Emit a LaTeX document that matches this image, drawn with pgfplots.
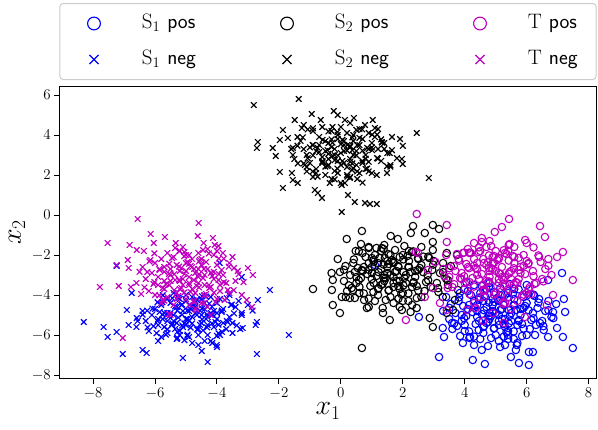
\RequirePackage{fix-cm}
\documentclass[border=0pt]{standalone}
\usepackage{pgfplots}
\pgfplotsset{compat=1.18}
\definecolor{mplm}{rgb}{0.75,0,0.75}
\pgfplotsset{myleg/.style={legend image code/.code={\draw[##1, mark size=6.4bp, line width=1.1bp] plot coordinates {(24bp,0bp)}; \path[draw=none,fill=none] (0bp,0bp) -- (32bp,0bp);}}}
\begin{document}
\begin{tikzpicture}
\useasboundingbox (0,0) rectangle (598bp,430bp);
\begin{axis}[
  at={(59.3bp,51bp)}, anchor=south west,
  scale only axis, width=537.4bp, height=293bp,
  xmin=-9.09, xmax=8.26, ymin=-8.2, ymax=6.45,
  xtick={-8,-6,...,8}, ytick={-8,-6,...,6},
  tick align=outside, tick pos=left, major tick length=5bp,
  axis line style={line width=1bp}, tick style={line width=1bp, black},
  ticklabel style={font=\fontsize{15}{18}\selectfont},
  xlabel={$x_1$}, ylabel={$x_2$},
  label style={font=\fontsize{28}{32}\selectfont},
  xlabel style={at={(axis description cs:0.5,0)}, anchor=base, yshift=-36bp},
  ylabel style={at={(axis description cs:-0.0713,0.5)}, anchor=base},
  legend columns=3,
  legend cell align=left,
  legend style={at={(0.5,1)}, anchor=south, yshift=6bp,
    draw=black!20, line width=1bp, rounded corners=3bp, fill=white,
    inner xsep=10bp, inner ysep=10bp, row sep=16bp,
    font=\fontsize{21}{25}\selectfont,
    nodes={inner sep=0pt, text width=58bp, text height=15bp, text depth=5bp},
    /tikz/every odd column/.append style={column sep=40bp},
    /tikz/every even column/.append style={column sep=63bp}},
  cpos/.style={only marks, mark=o, mark size=3.7bp, line width=1.1bp, myleg},
  cneg/.style={only marks, mark=x, mark size=4bp, line width=1.15bp, myleg},
]
% S1 pos
\addplot[blue, cpos] coordinates {
(3.17,-7.10)(4.26,-7.25)(4.65,-7.45)(5.75,-7.40)(6.07,-7.50)(6.20,-6.85)(7.49,-6.65)(7.17,-6.10)(6.69,-6.10)(6.98,-5.65)(7.20,-4.20)(7.24,-4.85)(6.85,-4.85)(7.14,-2.90)(6.69,-3.25)(3.29,-5.65)(3.33,-6.10)(3.59,-5.40)(2.52,-5.10)(3.84,-3.90)(1.10,-2.50)(5.14,-6.60)(5.68,-6.50)(5.39,-6.00)(3.94,-6.40)(4.55,-6.75)(4.17,-6.10)(6.27,-6.00)(6.43,-5.40)(5.49,-7.10)(6.07,-6.85)
(5.0,-4.9)(4.7,-4.6)(5.3,-5.2)(4.4,-5.1)(5.6,-4.5)(4.9,-4.2)(5.1,-5.5)(4.1,-4.7)(5.8,-5.0)(4.6,-5.6)(5.3,-4.0)(3.9,-5.3)(6.0,-4.4)(4.8,-5.2)(5.2,-4.7)(4.3,-4.3)(5.4,-5.8)(3.7,-4.9)(6.2,-4.9)(5.0,-6.0)(4.5,-3.9)(4.0,-5.8)(5.7,-5.5)(4.2,-4.0)(6.1,-5.7)(4.7,-3.7)(5.1,-6.3)(3.5,-5.2)(6.4,-4.2)(4.4,-4.8)(4.9,-4.5)(5.1,-5.0)(5.5,-4.9)(4.8,-4.9)(4.6,-4.3)(5.3,-5.6)(5.8,-4.7)(4.0,-5.5)(5.4,-6.2)(5.0,-3.9)(6.5,-5.3)(3.8,-4.3)(5.6,-3.7)(4.5,-6.2)(6.0,-6.0)(3.6,-5.7)(6.7,-4.3)(4.1,-3.8)(5.2,-5.2)(4.7,-5.4)(5.1,-4.3)(4.9,-4.8)(5.5,-5.3)(4.4,-4.5)(5.9,-4.1)(3.9,-5.0)(5.3,-6.5)(6.3,-5.5)(4.6,-5.9)(5.6,-4.2)(4.3,-6.5)(6.6,-4.8)(3.3,-4.8)(6.0,-3.5)(4.3,-3.5)(5.7,-6.4)(4.8,-3.4)(6.8,-5.1)(3.4,-4.1)(5.4,-3.9)
(4.85,-5.05)(5.15,-4.75)(4.55,-4.95)(5.45,-5.05)(4.75,-5.35)(5.25,-4.45)(4.35,-5.45)(5.65,-4.75)(4.95,-5.65)(5.05,-4.15)(4.25,-4.85)(5.75,-5.25)(4.65,-4.05)(5.35,-5.85)(4.05,-5.05)(5.95,-4.55)(4.45,-5.75)(5.55,-3.95)(3.95,-4.55)(6.15,-5.25)(4.85,-6.15)(5.15,-3.65)(3.75,-5.55)(6.35,-4.65)(4.55,-3.55)(5.85,-6.05)(4.15,-6.15)(6.55,-5.75)(3.55,-4.45)(5.65,-6.75)(4.95,-4.35)(5.25,-5.45)(4.45,-4.15)(5.85,-5.45)(4.75,-6.55)(6.25,-4.05)(3.85,-6.05)(5.45,-3.45)(6.95,-4.45)(4.05,-3.35)
(5.26,-4.5)(4.78,-5.04)(5.74,-5.3)(4.3,-4.64)(5.42,-4.12)(4.62,-5.56)(6.06,-4.76)(4.94,-3.86)(5.58,-5.82)(3.98,-5.16)(6.38,-4.38)(4.46,-4.24)(5.9,-5.68)(4.14,-5.82)(5.1,-5.3)(6.22,-5.16)(3.82,-4.12)(5.42,-4.76)(4.78,-4.38)(6.54,-5.56)(3.66,-5.42)(5.74,-3.72)(4.3,-6.08)(5.26,-6.08)(6.06,-3.98)(4.62,-4.76)(5.58,-4.5)(4.94,-5.68)(6.7,-4.76)(3.5,-4.64)(5.9,-4.64)(4.14,-4.5)(5.1,-4.24)(5.42,-5.42)(4.46,-5.3)(6.22,-3.98)(3.98,-3.72)(5.58,-6.2)(4.78,-3.6)(6.86,-5.16)
};
\addlegendentry{$\mathrm{S}_1$ \textsf{pos}}
% S2 pos
\addplot[black, cpos] coordinates {
(-0.90,-3.70)(0.68,-0.80)(0.19,-1.20)(0.48,-1.80)(0.90,-1.65)(1.32,-1.65)(2.33,-0.55)(2.26,-0.90)(2.71,-0.90)(2.97,-0.50)(3.17,-0.70)(2.97,-1.35)(1.61,-1.05)(1.84,-1.20)(-0.26,-3.25)(-0.29,-3.75)(-0.26,-4.50)(-0.03,-4.90)(0.16,-4.10)(0.39,-3.75)(-0.03,-2.85)(0.68,-6.65)(0.84,-4.65)(1.36,-4.90)(1.58,-5.25)(1.97,-4.75)(2.45,-4.65)(2.87,-5.15)(2.97,-5.60)(3.42,-4.90)(3.62,-4.75)(2.29,-1.85)(2.49,-2.15)(2.97,-1.75)(3.42,-1.90)(3.75,-2.00)(4.17,-1.90)(3.46,-3.50)(3.78,-3.75)(3.29,-4.10)(3.68,-4.25)(0.29,-4.15)(0.03,-4.10)(0.45,-2.85)(0.68,-2.75)(1.00,-2.15)(1.42,-2.15)
(1.6,-3.0)(1.3,-2.7)(1.9,-3.3)(1.0,-3.2)(2.2,-2.6)(1.5,-2.3)(1.7,-3.6)(0.7,-2.8)(2.4,-3.1)(1.2,-3.7)(1.9,-2.1)(0.5,-3.4)(2.6,-2.5)(1.4,-3.3)(1.8,-2.8)(0.9,-2.4)(2.0,-3.9)(0.3,-3.0)(2.8,-3.0)(1.6,-4.1)(1.1,-2.0)(0.6,-3.9)(2.3,-3.6)(0.8,-2.1)(2.7,-3.8)(1.3,-1.8)(1.7,-4.4)(0.1,-3.3)(3.0,-2.3)(1.0,-2.9)(1.5,-2.6)(1.7,-3.1)(2.1,-3.0)(1.4,-3.0)(1.2,-2.4)(1.9,-3.7)(2.4,-2.8)(0.6,-3.6)(2.0,-4.3)(1.6,-2.0)(3.1,-3.4)(0.4,-2.4)(2.2,-1.8)(1.1,-4.3)(2.6,-4.1)(0.2,-3.8)(3.3,-2.4)(0.7,-1.9)(1.8,-3.3)(1.3,-3.5)(1.7,-2.4)(1.5,-2.9)(2.1,-3.4)(1.0,-2.6)(2.5,-2.2)(0.5,-3.1)(1.9,-4.6)(2.9,-3.6)(1.2,-4.0)(2.2,-2.3)(0.9,-4.6)(3.2,-2.9)(-0.3,-2.9)(2.6,-1.6)(0.9,-1.6)(2.3,-4.5)(1.4,-1.5)(3.4,-3.2)(-0.1,-2.2)(2.0,-2.0)
(1.45,-3.15)(1.75,-2.85)(1.15,-3.05)(2.05,-3.15)(1.35,-3.45)(1.85,-2.55)(0.95,-3.55)(2.25,-2.85)(1.55,-3.75)(1.65,-2.25)(0.85,-2.95)(2.35,-3.35)(1.25,-2.15)(1.95,-3.95)(0.65,-3.15)(2.55,-2.65)(1.05,-3.85)(2.15,-2.05)(0.55,-2.65)(2.75,-3.35)(1.45,-4.25)(1.75,-1.75)(0.35,-3.65)(2.95,-2.75)(1.15,-1.65)(2.45,-4.15)(0.75,-4.25)(3.15,-3.85)(0.15,-2.55)(2.25,-4.85)(1.55,-2.45)(1.85,-3.55)(1.05,-2.25)(2.45,-3.55)(1.35,-4.65)(2.85,-2.15)(0.45,-4.15)(2.05,-1.55)(3.55,-2.55)(0.65,-1.45)
(1.86,-2.6)(1.38,-3.14)(2.34,-3.4)(0.9,-2.74)(2.02,-2.22)(1.22,-3.66)(2.66,-2.86)(1.54,-1.96)(2.18,-3.92)(0.58,-3.26)(2.98,-2.48)(1.06,-2.34)(2.5,-3.78)(0.74,-3.92)(1.7,-3.4)(2.82,-3.26)(0.42,-2.22)(2.02,-2.86)(1.38,-2.48)(3.14,-3.66)(0.26,-3.52)(2.34,-1.82)(0.9,-4.18)(1.86,-4.18)(2.66,-2.08)(1.22,-2.86)(2.18,-2.6)(1.54,-3.78)(3.3,-2.86)(0.1,-2.74)(2.5,-2.74)(0.74,-2.6)(1.7,-2.34)(2.02,-3.52)(1.06,-3.4)(2.82,-2.08)(0.58,-1.82)(2.18,-4.3)(1.38,-1.7)(3.46,-3.26)
};
\addlegendentry{$\mathrm{S}_2$ \textsf{pos}}
% T pos
\addplot[mplm, cpos] coordinates {
(2.45,0.05)(3.42,-0.50)(3.42,-1.35)(5.43,-0.20)(5.20,-0.60)(6.43,-0.55)(6.59,-1.10)(4.97,-0.85)(4.55,-1.15)(3.94,-1.90)(7.17,-1.85)(6.98,-2.10)(7.49,-3.25)(6.85,-4.00)(6.65,-4.50)(2.42,-1.85)(2.49,-1.90)(2.81,-2.75)(2.97,-3.65)(2.71,-4.10)(2.10,-5.25)(3.20,-4.40)(3.42,-4.75)(4.07,-4.75)(4.59,-5.30)(5.26,-5.40)(5.49,-4.70)(5.94,-5.10)(4.91,-4.90)
(5.0,-2.8)(4.7,-2.5)(5.3,-3.1)(4.4,-3.0)(5.6,-2.4)(4.9,-2.1)(5.1,-3.4)(4.1,-2.6)(5.8,-2.9)(4.6,-3.5)(5.3,-1.9)(3.9,-3.2)(6.0,-2.3)(4.8,-3.1)(5.2,-2.6)(4.3,-2.2)(5.4,-3.7)(3.7,-2.8)(6.2,-2.8)(5.0,-3.9)(4.5,-1.8)(4.0,-3.7)(5.7,-3.4)(4.2,-1.9)(6.1,-3.6)(4.7,-1.6)(5.1,-4.2)(3.5,-3.1)(6.4,-2.1)(4.4,-2.7)(4.9,-2.4)(5.1,-2.9)(5.5,-2.8)(4.8,-2.8)(4.6,-2.2)(5.3,-3.5)(5.8,-2.6)(4.0,-3.4)(5.4,-4.1)(5.0,-1.8)(6.5,-3.2)(3.8,-2.2)(5.6,-1.6)(4.5,-4.1)(6.0,-3.9)(3.6,-3.6)(6.7,-2.2)(4.1,-1.7)(5.2,-3.1)(4.7,-3.3)(5.1,-2.2)(4.9,-2.7)(5.5,-3.2)(4.4,-2.4)(5.9,-2.0)(3.9,-2.9)(5.3,-4.4)(6.3,-3.4)(4.6,-3.8)(5.6,-2.1)(4.3,-4.4)(6.6,-2.7)(3.3,-2.7)(6.0,-1.4)(4.3,-1.4)(5.7,-4.3)(4.8,-1.3)(6.8,-3.0)(3.4,-2.0)(5.4,-1.8)
(5.15,-2.95)(4.85,-2.65)(5.45,-2.85)(4.55,-2.95)(5.25,-3.25)(4.75,-2.35)(5.65,-3.35)(4.35,-2.65)(5.05,-3.55)(4.95,-2.05)(5.75,-2.75)(4.25,-3.15)(5.35,-1.95)(4.65,-3.75)(5.95,-2.95)(4.05,-2.45)(5.55,-3.65)(4.45,-1.85)(6.05,-2.45)(3.85,-3.15)(5.15,-4.05)(4.85,-1.55)(6.25,-3.45)(3.65,-2.55)(5.45,-1.45)(4.15,-3.95)(5.85,-4.05)(3.45,-3.65)(6.45,-2.35)(4.35,-4.65)(5.05,-2.25)(4.75,-3.35)(5.55,-2.05)(4.15,-3.35)(5.25,-4.45)(3.75,-1.95)(6.15,-3.95)(4.55,-1.35)(3.05,-2.35)(5.95,-1.25)
(4.94,-2.4)(5.42,-2.94)(4.46,-3.2)(5.9,-2.54)(4.78,-2.02)(5.58,-3.46)(4.14,-2.66)(5.26,-1.76)(4.62,-3.72)(6.22,-3.06)(3.82,-2.28)(5.74,-2.14)(4.3,-3.58)(6.06,-3.72)(5.1,-3.2)(3.98,-3.06)(6.38,-2.02)(4.78,-2.66)(5.42,-2.28)(3.66,-3.46)(6.54,-3.32)(4.46,-1.62)(5.9,-3.98)(4.94,-3.98)(4.14,-1.88)(5.58,-2.66)(4.62,-2.4)(5.26,-3.58)(3.5,-2.66)(6.7,-2.54)(4.3,-2.54)(6.06,-2.4)(5.1,-2.14)(4.78,-3.32)(5.74,-3.2)(3.98,-1.88)(6.22,-1.62)(4.62,-4.1)(5.42,-1.5)(3.34,-3.06)
};
\addlegendentry{$\mathrm{T}$ \textsf{pos}}
% S1 neg
\addplot[blue, cneg] coordinates {
(-2.29,-3.75)(-2.68,-4.25)(-2.71,-5.35)(-2.75,-5.50)(-3.17,-5.65)(-2.71,-6.95)(-4.30,-7.35)(-5.10,-7.15)(-4.01,-6.50)(-4.49,-6.80)(-6.27,-6.90)(-6.40,-6.75)(-7.04,-6.95)(-8.30,-5.35)(-7.66,-5.60)(-7.53,-6.10)(-7.24,-5.85)(-6.91,-4.75)(-6.85,-5.50)(-6.59,-5.15)(-6.75,-3.90)(-7.24,-2.55)(-3.20,-3.10)(-3.91,-2.40)(-1.68,-6.00)
(-4.8,-5.1)(-5.1,-4.8)(-4.5,-5.4)(-5.4,-5.3)(-4.2,-4.9)(-4.9,-4.5)(-4.6,-5.7)(-5.7,-4.9)(-4.0,-5.2)(-5.2,-5.8)(-4.4,-4.4)(-5.9,-5.5)(-3.8,-4.7)(-5.0,-5.5)(-4.7,-4.9)(-5.5,-4.4)(-4.3,-6.0)(-6.1,-5.0)(-3.6,-5.1)(-4.9,-6.1)(-4.5,-4.2)(-5.6,-5.9)(-4.1,-5.6)(-5.8,-4.5)(-3.7,-5.7)(-5.2,-4.2)(-4.8,-6.4)(-6.3,-5.3)(-3.4,-4.6)(-5.4,-5.0)(-4.7,-4.6)(-5.0,-5.2)(-4.3,-5.1)(-4.9,-5.3)(-5.3,-4.6)(-4.6,-6.0)(-4.1,-4.8)(-5.7,-5.6)(-4.4,-6.3)(-5.0,-4.3)(-3.5,-5.4)(-6.0,-4.7)(-4.2,-4.1)(-5.3,-6.2)(-3.9,-6.0)(-6.2,-5.8)(-3.3,-4.3)(-5.6,-4.2)(-4.5,-5.0)(-5.1,-5.6)(-4.7,-4.3)(-4.9,-4.8)(-4.3,-5.5)(-5.5,-4.9)(-4.0,-4.4)(-5.9,-5.2)(-4.6,-6.5)(-3.8,-5.4)(-5.2,-6.0)(-4.4,-4.7)(-5.8,-6.1)(-3.5,-5.9)(-6.4,-4.8)(-3.9,-4.2)(-5.0,-4.0)(-4.2,-6.3)(-5.6,-5.3)(-4.8,-4.1)(-3.2,-5.0)(-5.9,-6.3)(-3.0,-4.5)(-6.6,-5.6)(-4.0,-6.6)(-5.4,-3.9)(-3.6,-4.0)(-5.3,-5.4)
(-4.95,-5.2)(-4.65,-5.0)(-5.25,-5.13)(-4.35,-5.2)(-5.05,-5.42)(-4.55,-4.78)(-5.45,-5.49)(-4.15,-5.0)(-4.85,-5.63)(-4.75,-4.57)(-5.55,-5.07)(-4.05,-5.35)(-5.15,-4.5)(-4.45,-5.77)(-5.75,-5.2)(-3.85,-4.85)(-5.35,-5.7)(-4.25,-4.43)(-5.85,-4.85)(-3.65,-5.35)(-4.95,-5.98)(-4.65,-4.22)(-6.05,-5.56)(-3.45,-4.92)(-5.25,-4.15)(-3.95,-5.91)(-5.65,-5.98)(-3.25,-5.7)(-6.25,-4.78)(-4.15,-6.4)(-4.85,-4.71)(-4.55,-5.49)(-5.35,-4.57)(-3.95,-5.49)(-5.05,-6.26)(-3.55,-4.5)(-5.95,-5.91)(-4.35,-4.08)(-2.85,-4.78)(-5.75,-4.01)
(-4.96,-4.78)(-4.48,-5.22)(-5.44,-5.42)(-4.0,-4.9)(-5.12,-4.48)(-4.32,-5.62)(-5.76,-4.98)(-4.64,-4.26)(-5.28,-5.84)(-3.68,-5.3)(-6.08,-4.68)(-4.16,-4.58)(-5.6,-5.72)(-3.84,-5.84)(-4.8,-5.42)(-5.92,-5.3)(-3.52,-4.48)(-5.12,-4.98)(-4.48,-4.68)(-6.24,-5.62)(-3.36,-5.52)(-5.44,-4.16)(-4.0,-6.04)(-4.96,-6.04)(-5.76,-4.36)(-4.32,-4.98)(-5.28,-4.78)(-4.64,-5.72)(-6.4,-4.98)(-3.2,-4.9)(-5.6,-4.9)(-3.84,-4.78)(-4.8,-4.58)(-5.12,-5.52)(-4.16,-5.42)(-5.92,-4.36)(-3.68,-4.16)(-5.28,-6.14)(-4.48,-4.06)(-6.56,-5.3)
};
\addlegendentry{$\mathrm{S}_1$ \textsf{neg}}
% S2 neg
\addplot[black, cneg] coordinates {
(-2.81,5.50)(-1.36,5.80)(-1.49,4.75)(-0.94,5.05)(-0.65,4.75)(-0.23,5.20)(-0.10,5.00)(0.13,4.75)(0.42,4.85)(0.78,4.50)(1.03,4.75)(1.10,4.35)(2.45,4.10)(1.65,3.90)(1.91,3.80)(1.32,3.65)(1.58,3.10)(1.97,2.80)(2.00,2.55)(1.49,2.10)(1.16,2.00)(2.84,1.85)(-2.68,3.65)(-2.71,3.35)(-2.20,3.35)(-2.10,2.95)(-1.87,4.25)(-1.97,3.75)(-1.71,3.85)(-1.97,2.15)(-1.58,2.10)(-1.55,1.75)(-1.39,1.60)(-1.87,1.35)(-1.26,4.35)(-1.55,3.00)(-1.16,2.50)(-0.84,1.25)(-0.74,1.10)(-0.61,0.85)(-0.36,1.60)(0.03,1.50)(0.13,1.60)(0.23,1.00)(0.45,0.65)(0.78,0.60)(0.94,0.55)(1.16,0.55)(0.03,0.15)(0.29,1.85)(0.36,2.25)
(0.0,3.1)(-0.3,3.4)(0.3,2.8)(-0.6,2.9)(0.6,3.5)(-0.1,3.8)(0.2,2.4)(-0.9,3.5)(0.8,3.0)(-0.4,2.5)(0.4,4.0)(-1.1,3.0)(1.0,3.6)(-0.2,2.2)(0.5,3.2)(-0.7,3.9)(0.1,3.5)(-0.5,3.2)(0.7,2.6)(-1.3,3.7)(1.2,3.3)(-0.3,4.2)(0.3,1.9)(-0.8,2.3)(0.9,4.1)(-0.1,2.7)(0.4,3.7)(-1.0,2.6)(1.3,2.7)(-0.6,4.4)(0.6,2.1)(-0.2,3.0)(0.1,3.2)(-0.4,3.6)(0.3,3.4)(-0.8,3.2)(0.7,3.8)(-0.1,4.0)(0.5,2.5)(-1.2,3.3)(1.1,3.9)(-0.5,2.0)(0.0,4.4)(-1.5,2.8)(1.5,3.1)(-0.3,1.8)(0.8,2.3)(-0.9,4.2)(1.4,3.6)(-1.4,3.9)(0.2,2.0)(-0.6,2.6)(0.4,3.0)(-0.2,3.3)(0.9,3.3)(-0.7,3.5)(0.1,2.6)(-0.4,2.8)(0.6,4.3)(-1.1,2.4)(1.6,2.5)(-1.6,3.3)(0.0,1.6)(0.3,4.6)(1.0,2.1)(-0.9,1.9)(1.2,4.3)(-1.2,4.5)
(-0.1,2.98)(0.2,3.22)(-0.4,3.06)(0.5,2.98)(-0.2,2.74)(0.3,3.46)(-0.6,2.66)(0.7,3.22)(0.0,2.5)(0.1,3.7)(-0.7,3.14)(0.8,2.82)(-0.3,3.78)(0.4,2.34)(-0.9,2.98)(1.0,3.38)(-0.5,2.42)(0.6,3.86)(-1.0,3.38)(1.2,2.82)(-0.1,2.1)(0.2,4.1)(-1.2,2.58)(1.4,3.3)(-0.4,4.18)(0.9,2.18)(-0.8,2.1)(1.6,2.42)(-1.4,3.46)(0.7,1.62)(0.0,3.54)(0.3,2.66)(-0.5,3.7)(0.9,2.66)(-0.2,1.78)(1.3,3.78)(-1.1,2.18)(0.5,4.26)(2.0,3.46)(-0.9,4.34)
(0.21,3.5)(-0.27,2.96)(0.69,2.7)(-0.75,3.36)(0.37,3.88)(-0.43,2.44)(1.01,3.24)(-0.11,4.14)(0.53,2.18)(-1.07,2.84)(1.33,3.62)(-0.59,3.76)(0.85,2.32)(-0.91,2.18)(0.05,2.7)(1.17,2.84)(-1.23,3.88)(0.37,3.24)(-0.27,3.62)(1.49,2.44)(-1.39,2.58)(0.69,4.28)(-0.75,1.92)(0.21,1.92)(1.01,4.02)(-0.43,3.24)(0.53,3.5)(-0.11,2.32)(1.65,3.24)(-1.55,3.36)(0.85,3.36)(-0.91,3.5)(0.05,3.76)(0.37,2.58)(-0.59,2.7)(1.17,4.02)(-1.07,4.28)(0.53,1.8)(-0.27,4.4)(1.81,2.84)
};
\addlegendentry{$\mathrm{S}_2$ \textsf{neg}}
% T neg
\addplot[mplm, cneg] coordinates {
(-6.56,-0.20)(-4.59,-0.40)(-6.14,-0.95)(-5.68,-1.10)(-6.04,-1.40)(-7.53,-1.40)(-6.82,-1.50)(-6.59,-1.75)(-6.36,-1.80)(-5.33,-1.40)(-4.62,-1.05)(-4.13,-1.15)(-4.43,-1.40)(-4.07,-1.50)(-3.81,-1.90)(-7.24,-2.50)(-6.88,-2.25)(-7.78,-3.60)(-7.17,-3.55)(-6.78,-3.60)(-3.33,-2.80)(-3.00,-2.65)(-2.84,-3.00)(-3.04,-4.25)(-2.87,-4.60)(-7.04,-6.15)
(-4.9,-3.1)(-5.2,-2.8)(-4.6,-3.4)(-5.5,-3.3)(-4.3,-2.7)(-5.0,-2.4)(-4.8,-3.7)(-5.7,-2.6)(-4.1,-3.2)(-5.3,-3.9)(-4.5,-2.2)(-5.9,-3.5)(-4.0,-2.5)(-5.1,-3.5)(-4.7,-2.9)(-5.4,-2.1)(-4.4,-4.0)(-6.1,-2.9)(-3.8,-3.0)(-5.0,-4.2)(-4.6,-1.9)(-5.6,-4.1)(-4.2,-3.6)(-5.8,-2.2)(-3.9,-3.8)(-5.2,-1.8)(-4.9,-4.5)(-6.3,-3.2)(-3.6,-2.4)(-5.5,-3.0)(-4.8,-2.6)(-5.1,-3.2)(-4.4,-3.0)(-4.9,-3.4)(-5.3,-2.5)(-4.7,-3.9)(-4.2,-2.9)(-5.7,-3.7)(-4.5,-4.4)(-5.0,-2.0)(-3.7,-3.4)(-6.0,-2.4)(-4.3,-1.7)(-5.4,-4.5)(-4.0,-4.2)(-6.2,-3.8)(-3.5,-2.1)(-5.6,-1.9)(-4.6,-3.1)(-5.2,-3.7)(-4.8,-2.2)(-5.0,-2.8)(-4.4,-3.5)(-5.5,-2.7)(-4.1,-2.0)(-5.9,-3.1)(-4.7,-4.7)(-3.9,-3.5)(-5.3,-4.2)(-4.5,-2.5)(-5.8,-4.4)(-3.6,-3.9)(-6.4,-2.6)(-4.0,-1.8)(-5.1,-1.6)(-4.3,-4.6)(-5.7,-3.3)(-4.9,-2.0)(-3.4,-3.3)(-6.0,-4.0)(-5.5,-5.0)(-4.2,-5.0)(-3.2,-4.0)(-6.6,-3.4)(-4.6,-2.7)(-5.2,-3.3)
(-4.75,-3.25)(-5.05,-2.95)(-4.45,-3.15)(-5.35,-3.25)(-4.65,-3.55)(-5.15,-2.65)(-4.25,-3.65)(-5.55,-2.95)(-4.85,-3.85)(-4.95,-2.35)(-4.15,-3.05)(-5.65,-3.45)(-4.55,-2.25)(-5.25,-4.05)(-3.95,-3.25)(-5.85,-2.75)(-4.35,-3.95)(-5.45,-2.15)(-3.85,-2.75)(-6.05,-3.45)(-4.75,-4.35)(-5.05,-1.85)(-3.65,-3.75)(-6.25,-2.85)(-4.45,-1.75)(-5.75,-4.25)(-4.05,-4.35)(-6.45,-3.95)(-3.45,-2.65)(-5.55,-4.95)(-4.85,-2.55)(-5.15,-3.65)(-4.35,-2.35)(-5.75,-3.65)(-4.65,-4.75)(-6.15,-2.25)(-3.75,-4.25)(-5.35,-1.65)(-6.85,-2.65)(-3.95,-1.55)
(-4.74,-2.7)(-5.22,-3.24)(-4.26,-3.5)(-5.7,-2.84)(-4.58,-2.32)(-5.38,-3.76)(-3.94,-2.96)(-5.06,-2.06)(-4.42,-4.02)(-6.02,-3.36)(-3.62,-2.58)(-5.54,-2.44)(-4.1,-3.88)(-5.86,-4.02)(-4.9,-3.5)(-3.78,-3.36)(-6.18,-2.32)(-4.58,-2.96)(-5.22,-2.58)(-3.46,-3.76)(-6.34,-3.62)(-4.26,-1.92)(-5.7,-4.28)(-4.74,-4.28)(-3.94,-2.18)(-5.38,-2.96)(-4.42,-2.7)(-5.06,-3.88)(-3.3,-2.96)(-6.5,-2.84)(-4.1,-2.84)(-5.86,-2.7)(-4.9,-2.44)(-4.58,-3.62)(-5.54,-3.5)(-3.78,-2.18)(-6.02,-1.92)(-4.42,-4.4)(-5.22,-1.8)(-3.14,-3.36)
};
\addlegendentry{$\mathrm{T}$ \textsf{neg}}
\end{axis}
\end{tikzpicture}
\end{document}
